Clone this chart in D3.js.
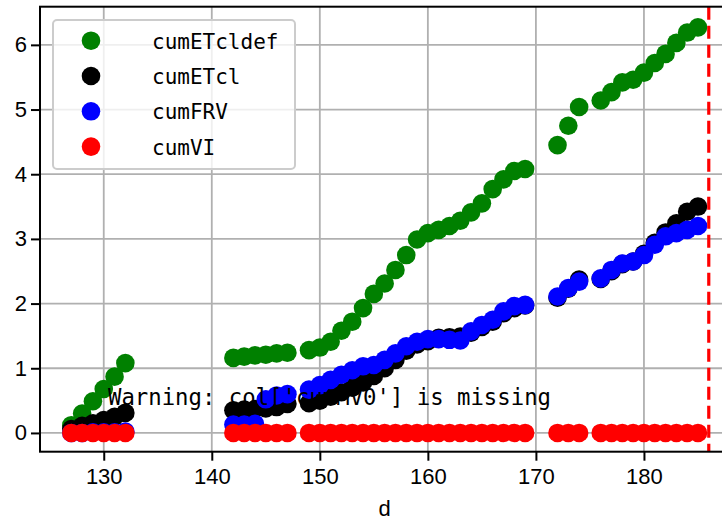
<!DOCTYPE html>
<html>
<head>
<meta charset="utf-8">
<script src="https://cdn.jsdelivr.net/npm/d3@7/dist/d3.min.js"></script>
<style>
  html, body { margin: 0; padding: 0; background: #fff; }
  svg { display: block; }
</style>
</head>
<body>
<svg id="chart" width="722" height="522"></svg>
<script>
// ---------------- data ----------------
const days = [127,128,129,130,131,132,
              142,143,144,145,146,147,
              149,150,151,152,153,154,155,156,157,158,159,160,161,162,163,164,165,166,167,168,169,
              172,173,174,
              176,177,178,179,180,181,182,183,184,185];

const cumETcldef = [0.12,0.30,0.49,0.68,0.87,1.08,
                    1.16,1.18,1.20,1.21,1.23,1.24,
                    1.28,1.32,1.41,1.58,1.72,1.93,2.15,2.31,2.52,2.75,2.99,3.09,3.14,3.20,3.28,3.41,3.55,3.77,3.92,4.05,4.08,
                    4.45,4.75,5.04,
                    5.14,5.27,5.42,5.46,5.57,5.72,5.86,6.03,6.19,6.27];

const cumETcl = [0.06,0.11,0.15,0.20,0.25,0.31,
                 0.35,0.36,0.37,0.38,0.40,0.45,
                 0.46,0.50,0.56,0.63,0.70,0.78,0.88,1.00,1.13,1.27,1.37,1.42,1.47,1.48,1.49,1.55,1.64,1.72,1.85,1.93,1.97,
                 2.09,2.23,2.37,
                 2.38,2.50,2.61,2.65,2.77,2.94,3.10,3.24,3.42,3.50];

const cumFRV = [0.00,0.00,0.01,0.01,0.01,0.02,
                0.13,0.13,0.14,0.52,0.58,0.60,
                0.67,0.74,0.82,0.90,0.97,1.03,1.05,1.13,1.23,1.34,1.41,1.45,1.45,1.44,1.43,1.57,1.67,1.75,1.88,1.96,1.98,
                2.11,2.24,2.34,
                2.39,2.52,2.62,2.65,2.75,2.91,3.04,3.09,3.14,3.20];

const cumVI = [0,0,0,0,0,0,
               0,0,0,0,0,0,
               0,0,0,0,0,0,0,0,0,0,0,0,0,0,0,0,0,0,0,0,0,
               0,0,0,
               0,0,0,0,0,0,0,0,0,0];

const seriesNames  = ["cumETcldef", "cumETcl", "cumFRV", "cumVI"];
const seriesValues = [cumETcldef, cumETcl, cumFRV, cumVI];
const seriesColors = ["#008000", "#000000", "#0000ff", "#ff0000"];

const xTicks = [130, 140, 150, 160, 170, 180];
const yTicks = [0, 1, 2, 3, 4, 5, 6];
const vLineDay = 186;
const xLabel = "d";
const warningText = "Warning: col['cumMV0'] is missing";

// ---------------- layout ----------------
const svg = d3.select("#chart");
const W = 722, H = 522;
svg.append("rect").attr("width", W).attr("height", H).attr("fill", "#fff");

const pLeft = 40, pRight = 729.3, pTop = 6.7, pBottom = 451.7;
const x = d3.scaleLinear().domain([124.1, 187.9]).range([pLeft, pRight]);
const y = d3.scaleLinear().domain([-0.29, 6.59]).range([pBottom, pTop]);

const tickFont = "'Liberation Sans', Arial, sans-serif";
const monoFont = "'DejaVu Sans Mono', 'Liberation Mono', monospace";

// grid
const grid = svg.append("g");
grid.selectAll("line.gx").data(xTicks).enter().append("line")
  .attr("x1", d => x(d)).attr("x2", d => x(d))
  .attr("y1", pTop).attr("y2", pBottom)
  .attr("stroke", "#b0b0b0").attr("stroke-width", 1.8);
grid.selectAll("line.gy").data(yTicks).enter().append("line")
  .attr("x1", pLeft).attr("x2", pRight)
  .attr("y1", d => y(d)).attr("y2", d => y(d))
  .attr("stroke", "#b0b0b0").attr("stroke-width", 1.8);

// points
const R = 9.3;
seriesValues.forEach((vals, si) => {
  svg.append("g").selectAll("circle").data(days).enter().append("circle")
    .attr("cx", d => x(d))
    .attr("cy", (d, i) => y(vals[i]))
    .attr("r", R)
    .attr("fill", seriesColors[si]);
});

// vertical dashed line
svg.append("line")
  .attr("x1", x(vLineDay)).attr("x2", x(vLineDay))
  .attr("y1", pTop).attr("y2", pBottom)
  .attr("stroke", "#ff0000").attr("stroke-width", 3.2)
  .attr("stroke-dasharray", "13,6");

// axes
const xAxis = d3.axisBottom(x).tickValues(xTicks).tickSizeOuter(0).tickSize(9).tickPadding(8)
  .tickFormat(d3.format("d"));
const gx = svg.append("g").attr("transform", `translate(0,${pBottom})`).call(xAxis);
const yAxis = d3.axisLeft(y).tickValues(yTicks).tickSizeOuter(0).tickSize(9).tickPadding(4)
  .tickFormat(d3.format("d"));
const gy = svg.append("g").attr("transform", `translate(${pLeft},0)`).call(yAxis);

[gx, gy].forEach(g => {
  g.select(".domain").remove();
  g.selectAll(".tick line").attr("stroke", "#000").attr("stroke-width", 2);
  g.selectAll(".tick text").attr("fill", "#000").style("font-family", tickFont).style("font-size", "22px");
});

// frame
svg.append("rect")
  .attr("x", pLeft).attr("y", pTop)
  .attr("width", pRight - pLeft).attr("height", pBottom - pTop)
  .attr("fill", "none").attr("stroke", "#000").attr("stroke-width", 2);

// x label
svg.append("text")
  .attr("x", (pLeft + pRight) / 2).attr("y", 516)
  .attr("text-anchor", "middle")
  .style("font-family", tickFont).style("font-size", "22px")
  .text(xLabel);

// warning text
svg.append("text")
  .attr("x", 108).attr("y", 405)
  .style("font-family", monoFont).style("font-size", "22.3px")
  .attr("fill", "#000")
  .text(warningText);

// legend
const lg = svg.append("g");
lg.append("rect")
  .attr("x", 53).attr("y", 20).attr("width", 242).attr("height", 149)
  .attr("rx", 4).attr("ry", 4)
  .attr("fill", "#fff").attr("fill-opacity", 0.8)
  .attr("stroke", "#cccccc").attr("stroke-width", 2);
seriesNames.forEach((name, i) => {
  const cy = 40.7 + i * 35.3;
  lg.append("circle").attr("cx", 91).attr("cy", cy).attr("r", R).attr("fill", seriesColors[i]);
  lg.append("text").attr("x", 152).attr("y", cy + 8)
    .style("font-family", monoFont).style("font-size", "21px")
    .attr("fill", "#000").text(name);
});
</script>
</body>
</html>
